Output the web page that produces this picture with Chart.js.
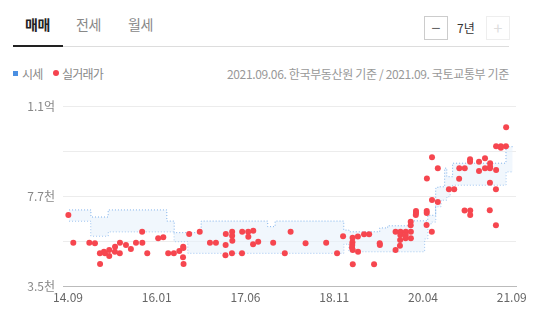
<!DOCTYPE html>
<html>
<head>
<meta charset="utf-8">
<script src="https://cdn.jsdelivr.net/npm/chart.js@4.4.0/dist/chart.umd.min.js"></script>
<style>
  body { margin: 0; width: 534px; height: 311px; overflow: hidden; background: #fff;
         font-family: "Noto Sans CJK KR", "Noto Sans", sans-serif; position: relative; }
  .tab { position: absolute; top: 14px; font-size: 14px; color: #888; letter-spacing: -0.5px; }
  .tab.on { color: #222; font-weight: bold; }
  .line-gray { position: absolute; left: 63px; top: 46px; width: 446px; height: 1px; background: #ddd; }
  .line-on { position: absolute; left: 13px; top: 45px; width: 50px; height: 2px; background: #222; }
  .btn { position: absolute; top: 16px; width: 22px; height: 22px; border: 1px solid #ccc;
         text-align: center; line-height: 21px; font-size: 16px; color: #666; }
  .btn.off { border-color: #eee; color: #ddd; }
  .years { position: absolute; left: 457px; top: 19px; font-size: 12px; color: #333; }
  .legend { position: absolute; top: 65px; font-size: 12px; color: #888; letter-spacing: -0.8px; }
  .src { position: absolute; right: 25px; top: 65px; font-size: 12px; color: #999; letter-spacing: -0.35px; }
  .sq { position: absolute; left: 13px; top: 71px; width: 5px; height: 5px; background: #4a8fe2; }
  .dot { position: absolute; left: 53px; top: 70px; width: 6px; height: 6px; border-radius: 50%; background: #f5434f; }
  #chart { position: absolute; left: 0; top: 90px; }
</style>
</head>
<body>
<div class="tab on" style="left:25px">매매</div>
<div class="tab" style="left:76px">전세</div>
<div class="tab" style="left:128px">월세</div>
<div class="line-gray"></div>
<div class="line-on"></div>
<div class="btn" style="left:424px">−</div>
<div class="years">7년</div>
<div class="btn off" style="left:486px">+</div>

<div class="sq"></div>
<div class="legend" style="left:22px">시세</div>
<div class="dot"></div>
<div class="legend" style="left:62px">실거래가</div>
<div class="src">2021.09.06. 한국부동산원 기준 / 2021.09. 국토교통부 기준</div>

<canvas id="chart" width="534" height="221"></canvas>

<script>
// 시세 (만원) - 상한/하한, 변동 시점
var bandDates = ['2014-09-07', '2015-01-11', '2015-04-19', '2016-03-22', '2016-05-04', '2016-07-22',
  '2016-10-07', '2017-10-25', '2017-12-07', '2019-01-07', '2019-02-07', '2019-08-01', '2019-09-16',
  '2020-02-04', '2020-04-16', '2020-05-04', '2020-05-22', '2020-06-19', '2020-07-01', '2020-07-19',
  '2020-08-10', '2020-08-22', '2020-09-10', '2020-09-25', '2021-07-28', '2021-09-06'];
var sisaeHigh = [7050, 6720, 7050, 6530, 5990, 5990, 6530, 6270, 6530, 6110, 6030, 6210, 6310,
  6540, 6540, 6800, 6800, 8060, 8130, 8130, 9000, 8600, 8600, 9230, 10000, 10000];
var sisaeLow = [6530, 5830, 6030, 6030, 5570, 5030, 5030, 5030, 5030, 5460, 5100, 5100, 5100,
  5100, 5700, 6350, 6490, 7200, 7200, 7510, 7510, 7670, 7980, 8210, 8830, 8830];

// 실거래가 (만원)
var tradeDates = ['2014-09-03', '2014-10-01', '2015-01-02', '2015-02-04', '2015-03-02', '2015-03-03',
  '2015-03-25', '2015-04-01', '2015-04-25', '2015-04-25', '2015-05-28', '2015-05-27', '2015-06-26',
  '2015-06-25', '2015-07-30', '2015-08-28', '2015-09-27', '2015-11-02', '2015-11-03', '2015-12-01',
  '2016-02-03', '2016-03-02', '2016-03-30', '2016-05-02', '2016-06-03', '2016-06-25', '2016-06-26',
  '2016-06-24', '2016-06-27', '2016-07-29', '2016-09-29', '2016-11-27', '2017-01-01', '2017-02-27',
  '2017-02-26', '2017-02-25', '2017-04-03', '2017-04-03', '2017-04-04', '2017-04-02', '2017-05-30',
  '2017-05-29', '2017-07-04', '2017-07-05', '2017-08-03', '2017-08-02', '2017-09-01', '2017-11-26',
  '2018-02-02', '2018-03-05', '2018-05-30', '2018-09-27', '2018-11-29', '2019-01-03', '2019-02-27',
  '2019-02-26', '2019-02-25', '2019-02-24', '2019-02-28', '2019-02-28', '2019-03-28', '2019-03-27',
  '2019-05-02', '2019-06-01', '2019-06-29', '2019-08-01', '2019-08-02', '2019-11-01', '2019-11-01',
  '2019-11-29', '2019-11-28', '2019-11-27', '2019-11-26', '2019-12-29', '2019-12-29', '2019-12-28',
  '2020-01-28', '2020-01-28', '2020-01-27', '2020-01-27', '2020-02-27', '2020-02-27', '2020-02-26',
  '2020-04-29', '2020-04-28', '2020-04-28', '2020-04-27', '2020-05-28', '2020-05-28', '2020-05-27',
  '2020-07-01', '2020-07-01', '2020-09-04', '2020-10-04', '2020-11-03', '2020-11-02', '2020-12-04',
  '2020-12-03', '2021-01-05', '2021-01-05', '2021-01-04', '2021-01-04', '2021-02-25', '2021-02-25',
  '2021-03-29', '2021-03-29', '2021-04-28', '2021-04-28', '2021-04-27', '2021-04-27', '2021-04-26',
  '2021-06-02', '2021-06-02', '2021-06-01', '2021-06-01', '2021-06-29', '2021-06-29', '2021-07-28',
  '2021-07-29'];
var tradePrices = [6810, 5520, 5520, 5490, 5030, 4530,
  5100, 5030, 5180, 4900, 5330, 5100, 5520,
  5030, 5410, 5230, 5520, 6030, 5520, 5030,
  5730, 5770, 5030, 5030, 5130, 5330, 5270,
  4840, 4530, 5930, 6030, 5520, 5520, 5930,
  5410, 4930, 6030, 5850, 5610, 5030, 6030,
  5030, 6030, 5800, 6080, 5450, 5570, 5520,
  5030, 6030, 5490, 5520, 5030, 5820, 5750,
  5540, 5410, 5290, 5180, 4510, 5100, 5810,
  5910, 5910, 4510, 5490, 5410, 5180, 6030,
  6030, 5880, 5650, 5380, 6030, 5880, 5730,
  6030, 5730, 6500, 6330, 7000, 6910, 6810,
  8520, 7000, 6910, 6350, 9510, 7510, 6030,
  8990, 7420, 8010, 8010, 8990, 8510, 8990,
  7020, 7020, 6810, 9410, 9300, 9300, 8870,
  9460, 8990, 9230, 9070, 8990, 8320, 7030,
  10020, 8910, 8010, 6330, 10020, 9950, 10020,
  10910];

// 축
var xTickMonths = [0, 16.8, 33.6, 50.4, 67.2, 84];
var xTickLabels = ['14.09', '16.01', '17.06', '18.11', '20.04', '21.09'];
var yTicks = [3500, 5600, 7700, 9800, 11900];
var yTickLabels = ['3.5천', '', '7.7천', '', '1.1억'];

// 2014.09 부터의 개월 수
function toMonth(d) {
  var p = d.split('-').map(Number);
  return (p[0] - 2014) * 12 + (p[1] - 9) + (p[2] - 1) / 30;
}

function pts(dates, vals) {
  return dates.map(function (d, i) { return { x: toMonth(d), y: vals[i] }; });
}

var ctx = document.getElementById('chart');
var chart = new Chart(ctx, {
  type: 'line',
  data: {
    datasets: [{
      type: 'scatter',
      label: '실거래가',
      data: pts(tradeDates, tradePrices),
      backgroundColor: '#f6464f',
      borderWidth: 0,
      pointRadius: 3,
      pointHoverRadius: 3
    }, {
      label: '시세 상한',
      data: pts(bandDates, sisaeHigh),
      borderColor: '#7eb0ea',
      borderWidth: 1,
      borderDash: [1, 2],
      stepped: true,
      pointRadius: 0,
      fill: '+1',
      backgroundColor: 'rgba(232,242,252,0.6)'
    }, {
      label: '시세 하한',
      data: pts(bandDates, sisaeLow),
      borderColor: '#7eb0ea',
      borderWidth: 1,
      borderDash: [1, 2],
      stepped: true,
      pointRadius: 0,
      fill: false
    }]
  },
  options: {
    responsive: false,
    animation: false,
    devicePixelRatio: 1,
    layout: { padding: { top: 16, right: 18, left: 0, bottom: 0 } },
    plugins: { legend: { display: false }, tooltip: { enabled: false } },
    scales: {
      x: {
        type: 'linear',
        min: -0.95,
        max: 84.8,
        afterBuildTicks: function (axis) {
          axis.ticks = xTickMonths.map(function (v) { return { value: v }; });
        },
        afterFit: function (axis) { axis.height = 25; },
        grid: { display: false, drawTicks: false },
        border: { display: true, color: '#bbb', width: 1 },
        ticks: {
          padding: 4,
          color: '#666',
          font: { size: 12, family: '"Noto Sans CJK KR", sans-serif' },
          maxRotation: 0,
          callback: function (v, i) { return xTickLabels[i]; }
        }
      },
      y: {
        min: 3500,
        max: 11900,
        afterBuildTicks: function (axis) {
          axis.ticks = yTicks.map(function (v) { return { value: v }; });
        },
        afterFit: function (axis) { axis.width = 63; },
        grid: { color: '#ececec', drawTicks: false },
        border: { display: false },
        ticks: {
          padding: 8,
          color: '#888',
          font: { size: 12, family: '"Noto Sans CJK KR", sans-serif' },
          callback: function (v, i) { return yTickLabels[i]; }
        }
      }
    }
  }
});
</script>
</body>
</html>
